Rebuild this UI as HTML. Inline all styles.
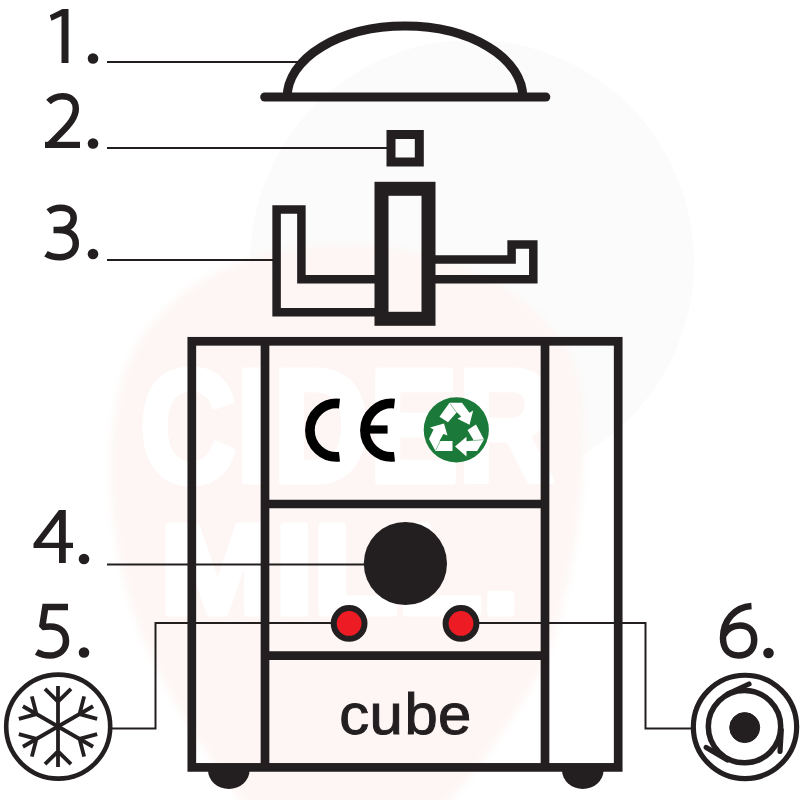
<!DOCTYPE html>
<html>
<head>
<meta charset="utf-8">
<title>cube diagram</title>
<style>
html,body{margin:0;padding:0;background:#ffffff;}
body{width:800px;height:800px;overflow:hidden;font-family:"Liberation Sans",sans-serif;}
svg{display:block;}
text{font-family:"Liberation Sans",sans-serif;fill:#231f20;}
</style>
</head>
<body>
<svg width="800" height="800" viewBox="0 0 800 800">
<rect x="0" y="0" width="800" height="800" fill="#ffffff"/>

<!-- faint watermark -->
<defs><filter id="soft" x="-10%" y="-10%" width="120%" height="120%"><feGaussianBlur stdDeviation="4"/></filter></defs>
<g id="wm">
<circle cx="472" cy="262" r="222" fill="#fbfbfb"/>
<path filter="url(#soft)" d="M345 246 C250 240 150 290 122 380 C100 460 110 580 160 675 C185 720 215 770 250 810 L440 810 C470 780 515 720 545 662 C570 600 590 480 582 394 C570 300 440 240 345 246 Z" fill="#fdf6f4"/>
<g style="font-family:'Liberation Serif',serif;font-weight:bold;fill:#ffffff;stroke:#ffffff;stroke-width:7;stroke-linejoin:round">
<text x="140" y="481" font-size="160" textLength="414" lengthAdjust="spacingAndGlyphs" style="fill:#ffffff">CIDER</text>
<text x="160" y="613" font-size="126" textLength="360" lengthAdjust="spacingAndGlyphs" style="fill:#ffffff">MILL.</text>
</g>
</g>

<!-- leader lines -->
<g stroke="#231f20" stroke-width="2" fill="none">
<path d="M107 62 H298"/>
<path d="M107 148 H388"/>
<path d="M107 260 H274"/>
<path d="M107 564.5 H366"/>
<path d="M112 728.5 H155.5 V623 H332"/>
<path d="M479 623 H645.5 V728.5 H692"/>
</g>

<!-- 1 dome -->
<g stroke="#231f20" fill="none" stroke-width="9">
<path d="M264.7 97 H545.8" stroke-linecap="round"/>
<path d="M287.2 97 A117.8 71 0 0 1 522.8 97"/>
</g>

<!-- 2 small square -->
<rect x="391" y="134.5" width="28.3" height="27.5" fill="none" stroke="#231f20" stroke-width="9"/>

<!-- 3 handle -->
<g stroke="#231f20" fill="none" stroke-width="8.5" stroke-linejoin="miter">
<path d="M375 279.2 H301.4 V209.6 H276.6 V312.3 H375"/>
<path d="M435 259.6 H511.6 V244.4 H533.3 V279.2 H435"/>
</g>
<rect x="381.5" y="188.8" width="47" height="130" fill="none" stroke="#231f20" stroke-width="14"/>

<!-- body -->
<g stroke="#231f20" fill="none" stroke-width="8.7">
<rect x="191.8" y="341.3" width="426.4" height="426.1"/>
<path d="M265 341 V767"/>
<path d="M545 341 V767"/>
<path d="M265 504 H545"/>
<path d="M265 655.6 H545"/>
</g>
<!-- feet -->
<path d="M208 770 A20.8 19 0 0 0 249.6 770 Z" fill="#231f20"/>
<path d="M562 770 A20.8 19 0 0 0 603.6 770 Z" fill="#231f20"/>

<!-- CE -->
<g stroke="#000000" fill="none" stroke-width="9.7">
<path d="M339.5 403.6 A26.75 26.75 0 1 0 339.5 456.8"/>
<path d="M394.5 403.6 A26.75 26.75 0 1 0 394.5 456.8"/>
<path d="M366 429.5 H387.6" stroke-width="8.2"/>
</g>

<!-- recycle -->
<g id="recycle">
<circle cx="456.3" cy="429.9" r="32.6" fill="#1b7a3a"/>
<g fill="#ffffff" transform="translate(415 390) scale(0.1)">
<path d="M345 128 L470 128 L545 228 L582 205 L545 348 L425 288 L462 265 L418 222 L330 322 L245 268 Z"/>
<path d="M610 345 L690 495 L622 610 L515 610 L515 665 L400 565 L515 468 L515 512 L588 505 L525 400 Z"/>
<path d="M245 510 L375 510 L375 610 L205 610 L140 490 L185 395 L150 375 L290 335 L325 455 L285 440 Z"/>
<g stroke="#1b7a3a" stroke-width="5" fill="none"><path d="M350 135 L415 225"/><path d="M588 505 L688 497"/><path d="M285 442 L207 605"/></g>
</g>
</g>

<!-- 4 big dot -->
<circle cx="405.4" cy="563.5" r="41.6" fill="#231f20"/>

<!-- red dots -->
<circle cx="349.1" cy="623.4" r="15.4" fill="#ed1c24" stroke="#231f20" stroke-width="6"/>
<circle cx="461" cy="623.4" r="15.4" fill="#ed1c24" stroke="#231f20" stroke-width="6"/>

<!-- snowflake -->
<g stroke="#231f20" fill="none">
<circle cx="58.2" cy="726.6" r="52" stroke-width="4.6"/>
<g stroke-width="3.8">
<g transform="rotate(0 58 726.5)"><path d="M58 726.5 V686 M58 701.6 L45 688.8 M58 701.6 L71 688.8"/></g>
<g transform="rotate(60 58 726.5)"><path d="M58 726.5 V686 M58 701.6 L45 688.8 M58 701.6 L71 688.8"/></g>
<g transform="rotate(120 58 726.5)"><path d="M58 726.5 V686 M58 701.6 L45 688.8 M58 701.6 L71 688.8"/></g>
<g transform="rotate(180 58 726.5)"><path d="M58 726.5 V686 M58 701.6 L45 688.8 M58 701.6 L71 688.8"/></g>
<g transform="rotate(240 58 726.5)"><path d="M58 726.5 V686 M58 701.6 L45 688.8 M58 701.6 L71 688.8"/></g>
<g transform="rotate(300 58 726.5)"><path d="M58 726.5 V686 M58 701.6 L45 688.8 M58 701.6 L71 688.8"/></g>
</g>

<!-- icon 6 -->
<g stroke="#231f20" fill="none" stroke-linecap="round">
<circle cx="745" cy="726.9" r="51.65" stroke-width="5.2"/>
<circle cx="744.5" cy="726.6" r="36.2" stroke-width="5.5"/>
<g stroke-width="5.2">
<path d="M749 684 L727.5 694"/>
<path d="M706.2 747.4 L727.5 760"/>
<path d="M780 751.5 L781.3 730"/>
</g>
</g>
<circle cx="744.7" cy="727.6" r="15" fill="#231f20"/>

<!-- numbers -->
<g id="nums" fill="#231f20" stroke="none">
<!-- 1 -->
<path d="M61.5 63 H68.5 V9 H62.5 L49.8 15.2 L51.5 20.8 L61.5 16 Z"/>
<circle cx="93" cy="58.5" r="5.3"/>
<!-- 2 -->
<rect x="45" y="141.8" width="35" height="6.2"/>
<circle cx="93" cy="143.5" r="5.3"/>
<!-- 3 -->
<circle cx="93" cy="254" r="5.3"/>
<!-- 4 -->
<path fill-rule="evenodd" d="M59 510 H65.8 V542.8 H73 V548 H65.8 V563 H59 V548 H33.5 V543.5 Z M59 519.5 L41.5 542.8 H59 Z"/>
<circle cx="84" cy="559" r="5.3"/>
<!-- 5 -->
<circle cx="84" cy="652.5" r="5.3"/>
<!-- 6 -->
<circle cx="768.5" cy="653" r="5.3"/>
</g>
<g id="numstrokes" fill="none" stroke="#231f20" stroke-width="6.5" stroke-linejoin="miter">
<!-- 2 -->
<path d="M48.5 102 C52 98.5 57 96.2 62.5 96.2 C70.5 96.2 75.8 101 75.8 108.5 C75.8 117 70 124 60 134 L49.5 144.8"/>
<!-- 3 -->
<path d="M48.5 211.8 C52 209 56.5 207.8 61 207.8 C69 207.8 73.7 212 73.7 218 C73.7 225 68 230 59 230 L53.5 230"/>
<path d="M59 230 C69 230 75.8 235 75.8 243.5 C75.8 252 69 257.3 60 257.3 C54.5 257.3 49.5 256 46 253.8"/>
<!-- 5 -->
<path stroke-miterlimit="1.45" d="M68 607 L45.3 607 L42.2 627 C44 626.8 47 626.5 50 626.5 C61 626.5 66 633 66 641 C66 650 59 655.5 50 655.5 C45 655.5 40 654 36.5 652"/>
<!-- 6 -->
<path d="M751.5 606 C735 607 723 620 723 638 C723 649 729 655.5 738.5 655.5 C748 655.5 754.2 649.5 754.2 640 C754.2 631 748.5 625.5 740 625.5 C733 625.5 727 629 723.5 635"/>
</g>
<g font-size="57">
<text transform="translate(339.3 733.8) scale(1.05 1)">c</text>
<text transform="translate(369.6 733.8) scale(1.05 1)">u</text>
<text transform="translate(404.4 733.8) scale(1.05 1)">b</text>
<text transform="translate(438 733.8) scale(1.05 1)">e</text>
</g>
</svg>
</body>
</html>
